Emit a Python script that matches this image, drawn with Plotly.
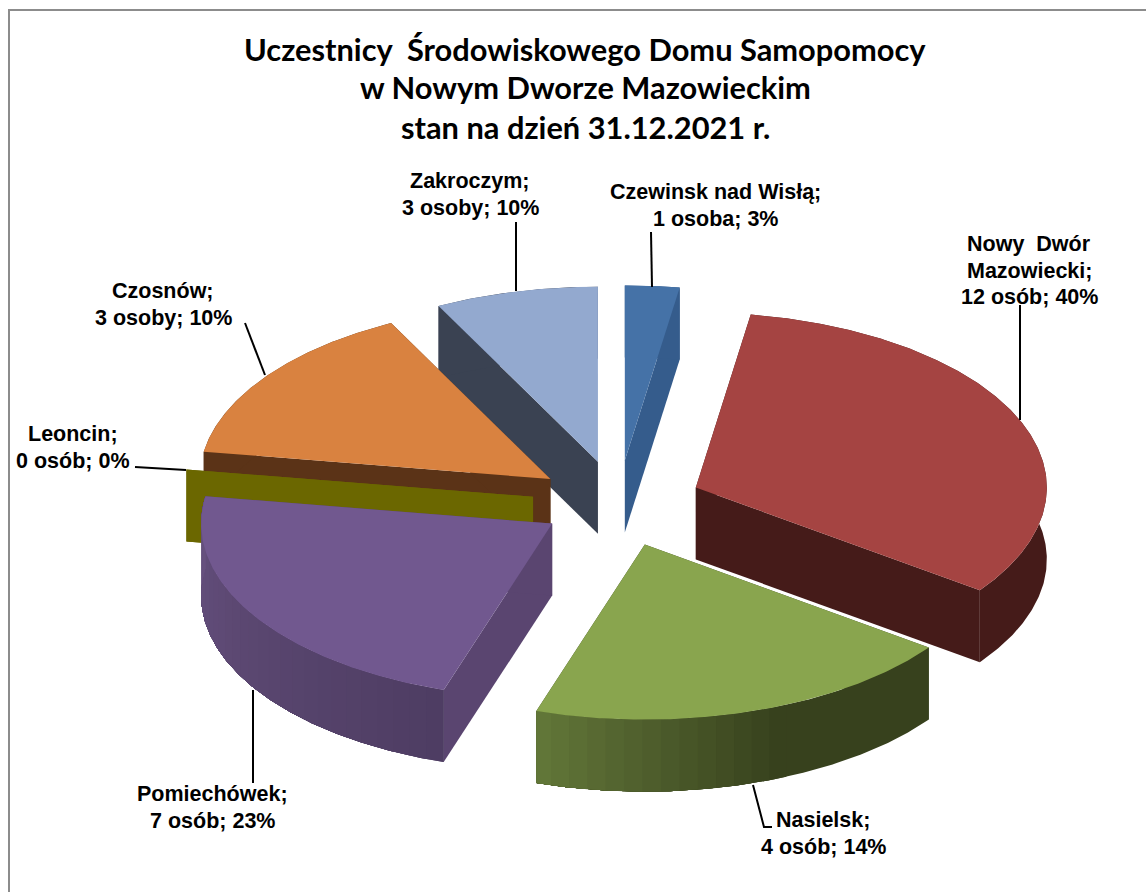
import numpy as np
import plotly.graph_objects as go

# --- data ---
categories = [["Czewinsk nad Wisłą;"], ["Nowy  Dwór", "Mazowiecki;"], ["Nasielsk;"], ["Pomiechówek;"],
              ["Leoncin;"], ["Czosnów;"], ["Zakroczym;"]]
people = ["1 osoba", "12 osób", "4 osób", "7 osób", "0 osób", "3 osoby", "3 osoby"]
percent_labels = ["3%", "40%", "14%", "23%", "0%", "10%", "10%"]
# slice sizes as actually drawn in the picture (they differ from the printed labels)
drawn_shares = [1, 13, 8, 9, 0, 6, 3]
title_lines = ["Uczestnicy  Środowiskowego Domu Samopomocy",
               "w Nowym Dworze Mazowieckim",
               "stan na dzień 31.12.2021 r."]

# --- styling ---
top_colors = ["#4572A7", "#A54442", "#89A54E", "#71588F", "#6B6700", "#D98240", "#93A9CF"]
wall_colors = ["#355C8C", "#451B19", "#3A4520", "#5A4570", "#6B6700", "#5B3317", "#3A4252"]
# gradient along the outer wall: colour at arc start, colour at arc end, fraction where it starts changing
arc_grad = {2: ("#37411D", "#64793A", 0.42), 3: ("#4E3D63", "#67517F", 0.0)}
CX, CY, RX, RY, DEPTH = 618, 503.5, 351, 175, 72
explode = [0.247, 0.24, 0.247, 0.22, 0.245, 0.238, 0.245]
draw_order = [6, 0, 5, 4, 1, 3, 2]


def hex2rgb(h):
    return np.array([int(h[i:i + 2], 16) for i in (1, 3, 5)], float)


def mix(a, b, f):
    c = hex2rgb(a) * (1 - f) + hex2rgb(b) * f
    return "rgb(%d,%d,%d)" % tuple(c.round())


fig = go.Figure()


def poly(xs, ys, color):
    fig.add_trace(go.Scatter(
        x=list(xs) + [xs[0]], y=list(ys) + [ys[0]], mode="lines", fill="toself",
        fillcolor=color, line=dict(color=color, width=0),
        hoverinfo="skip", showlegend=False))


def wall(px, py, color):
    xx = list(px) + list(px[::-1])
    yy = list(py) + list((py + DEPTH)[::-1])
    poly(xx, yy, color)


total = sum(drawn_shares)
edges = np.concatenate([[0], np.cumsum(drawn_shares)]) * 2 * np.pi / total

for i in draw_order:
    t0, t1 = edges[i], edges[i + 1]
    mid = (t0 + t1) / 2
    ax = CX + explode[i] * RX * np.sin(mid)
    ay = CY - explode[i] * RY * np.cos(mid)
    ts = np.linspace(t0, t1, max(2, 2 * int(np.degrees(t1 - t0)) + 2))
    px = ax + RX * np.sin(ts)
    py = ay - RY * np.cos(ts)
    # radial walls
    for tx, ty in ((px[0], py[0]), (px[-1], py[-1])):
        poly([ax, tx, tx, ax], [ay, ty, ty + DEPTH, ay + DEPTH], wall_colors[i])
    # outer curved wall; shaded bands are painted over each other so no seams show
    if t1 > t0:
        if i in arc_grad:
            c0, c1, knee = arc_grad[i]
            wall(px, py, c0)
            n = len(ts)
            for k in range(int(knee * n), n - 1, 6):
                f = (k / (n - 1) - knee) / (1 - knee)
                wall(px[k:], py[k:], mix(c0, c1, f))
        else:
            wall(px, py, wall_colors[i])
        # top face
        poly([ax] + list(px), [ay] + list(py), top_colors[i])

# leader lines
leaders = [[(651, 232), (652, 287)], [(1020, 305), (1020, 420)], [(753, 785), (764, 827), (772, 827)],
           [(253, 690), (253, 783)], [(135, 467), (186, 470)], [(245, 323), (265, 375)],
           [(516, 222), (516, 291)]]
for pts in leaders:
    fig.add_trace(go.Scatter(x=[p[0] for p in pts], y=[p[1] for p in pts], mode="lines",
                             line=dict(color="#000000", width=2),
                             hoverinfo="skip", showlegend=False))

# chart frame
fig.add_trace(go.Scatter(x=[9, 9, 1146], y=[892, 10, 10], mode="lines",
                         line=dict(color="#8C8C8C", width=2), hoverinfo="skip", showlegend=False))

annotations = []
LINE_H = 26.5
label_first_y = [192, 244, 820, 794, 434, 291, 181]
label_x = [715, 1029, 823, 212, 73, 163, 470]
for i, (x, y) in enumerate(zip(label_x, label_first_y)):
    lines = categories[i] + [f"{people[i]}; {percent_labels[i]}"]
    for j, line in enumerate(lines):
        annotations.append(dict(
            x=x, y=y + j * LINE_H, xref="x", yref="y", showarrow=False,
            xanchor="center", yanchor="middle", text=line,
            font=dict(family="Liberation Sans", size=21.5, color="#000000", weight="bold")))
for line, y in zip(title_lines, [49, 87, 127]):
    annotations.append(dict(
        x=585, y=y, xref="x", yref="y", showarrow=False, xanchor="center", yanchor="middle",
        text=line, font=dict(family="Lato", size=30.8, color="#000000", weight="bold")))

fig.update_layout(
    width=1146, height=892, margin=dict(l=0, r=0, t=0, b=0),
    paper_bgcolor="#FFFFFF", plot_bgcolor="#FFFFFF", showlegend=False,
    xaxis=dict(range=[0, 1146], visible=False, fixedrange=True),
    yaxis=dict(range=[892, 0], visible=False, fixedrange=True),
    annotations=annotations,
)
fig.write_html("out.html", post_script="document.body.style.margin='0';",
               config={"displayModeBar": False})
